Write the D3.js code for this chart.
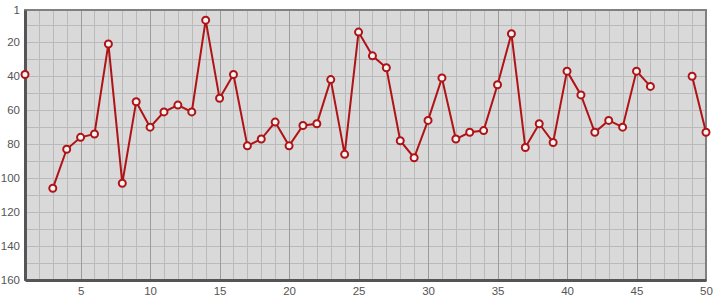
<!DOCTYPE html>
<html>
<head>
<meta charset="utf-8">
<script src="https://cdn.jsdelivr.net/npm/d3@7/dist/d3.min.js"></script>
<style>
  body { margin: 0; background: #fff; }
  .tick text { font-family: "Liberation Sans", Arial, sans-serif; font-size: 11.5px; fill: #555; }
</style>
</head>
<body>
<div id="chart"></div>
<script>
// x positions 1..50, null = no value
var xs = d3.range(1, 51);
var values = [39, null, 106, 83, 76, 74, 21, 103, 55, 70,
              61, 57, 61, 7, 53, 39, 81, 77, 67, 81,
              69, 68, 42, 86, 14, 28, 35, 78, 88, 66,
              41, 77, 73, 72, 45, 15, 82, 68, 79, 37,
              51, 73, 66, 70, 37, 46, null, null, 40, 73];
var xTicks = [5, 10, 15, 20, 25, 30, 35, 40, 45, 50];
var yTicks = [1, 20, 40, 60, 80, 100, 120, 140, 160];

var width = 715, height = 300;
var margin = {top: 10, right: 9, bottom: 20, left: 25};

var svg = d3.select("#chart").append("svg")
    .attr("width", width)
    .attr("height", height);

var x = d3.scaleLinear().domain([1, 50]).range([margin.left, width - margin.right]);
var y = d3.scaleLinear().domain([1, 160]).range([margin.top, height - margin.bottom]);

// plot background
svg.append("rect")
    .attr("x", x(1)).attr("y", y(1))
    .attr("width", x(50) - x(1)).attr("height", y(160) - y(1))
    .style("fill", "#d9d9d9");

// grid
svg.append("g").selectAll("line")
    .data(d3.range(10, 160, 10))
    .enter().append("line")
    .attr("x1", x(1)).attr("x2", x(50))
    .attr("y1", function (d) { return Math.round(y(d)) + 0.5; })
    .attr("y2", function (d) { return Math.round(y(d)) + 0.5; })
    .style("stroke", "#bababa");

svg.append("g").selectAll("line")
    .data(d3.range(2, 50))
    .enter().append("line")
    .attr("y1", y(1)).attr("y2", y(160))
    .attr("x1", function (d) { return Math.round(x(d)) + 0.5; })
    .attr("x2", function (d) { return Math.round(x(d)) + 0.5; })
    .style("stroke", function (d) { return d % 5 == 0 ? "#9c9c9c" : "#bababa"; });

// frame: top and right lighter, left and bottom as axes
svg.append("rect")
    .attr("x", x(1)).attr("y", y(1))
    .attr("width", x(50) - x(1)).attr("height", y(160) - y(1))
    .style("fill", "none")
    .style("stroke", "#808080")
    .style("stroke-width", 2);

var yAxis = svg.append("g")
    .attr("transform", "translate(" + x(1) + ",0)")
    .call(d3.axisLeft(y).tickValues(yTicks).tickSize(0).tickPadding(5));
yAxis.select(".domain").style("stroke", "#555").style("stroke-width", 3);

var xAxis = svg.append("g")
    .attr("transform", "translate(0," + y(160) + ")")
    .call(d3.axisBottom(x).tickValues(xTicks).tickSize(0).tickPadding(7));
xAxis.select(".domain").style("stroke", "#555").style("stroke-width", 3);

// series
var data = xs.map(function (d, i) { return {x: d, v: values[i]}; });

var line = d3.line()
    .defined(function (d) { return d.v != null; })
    .x(function (d) { return x(d.x); })
    .y(function (d) { return y(d.v); });

svg.append("path")
    .datum(data)
    .attr("d", line)
    .style("fill", "none")
    .style("stroke", "#b01316")
    .style("stroke-width", 2);

svg.append("g").selectAll("circle")
    .data(data.filter(function (d) { return d.v != null; }))
    .enter().append("circle")
    .attr("cx", function (d) { return x(d.x); })
    .attr("cy", function (d) { return y(d.v); })
    .attr("r", 3.5)
    .style("fill", "#f4f4f4")
    .style("stroke", "#b01316")
    .style("stroke-width", 2);
</script>
</body>
</html>
